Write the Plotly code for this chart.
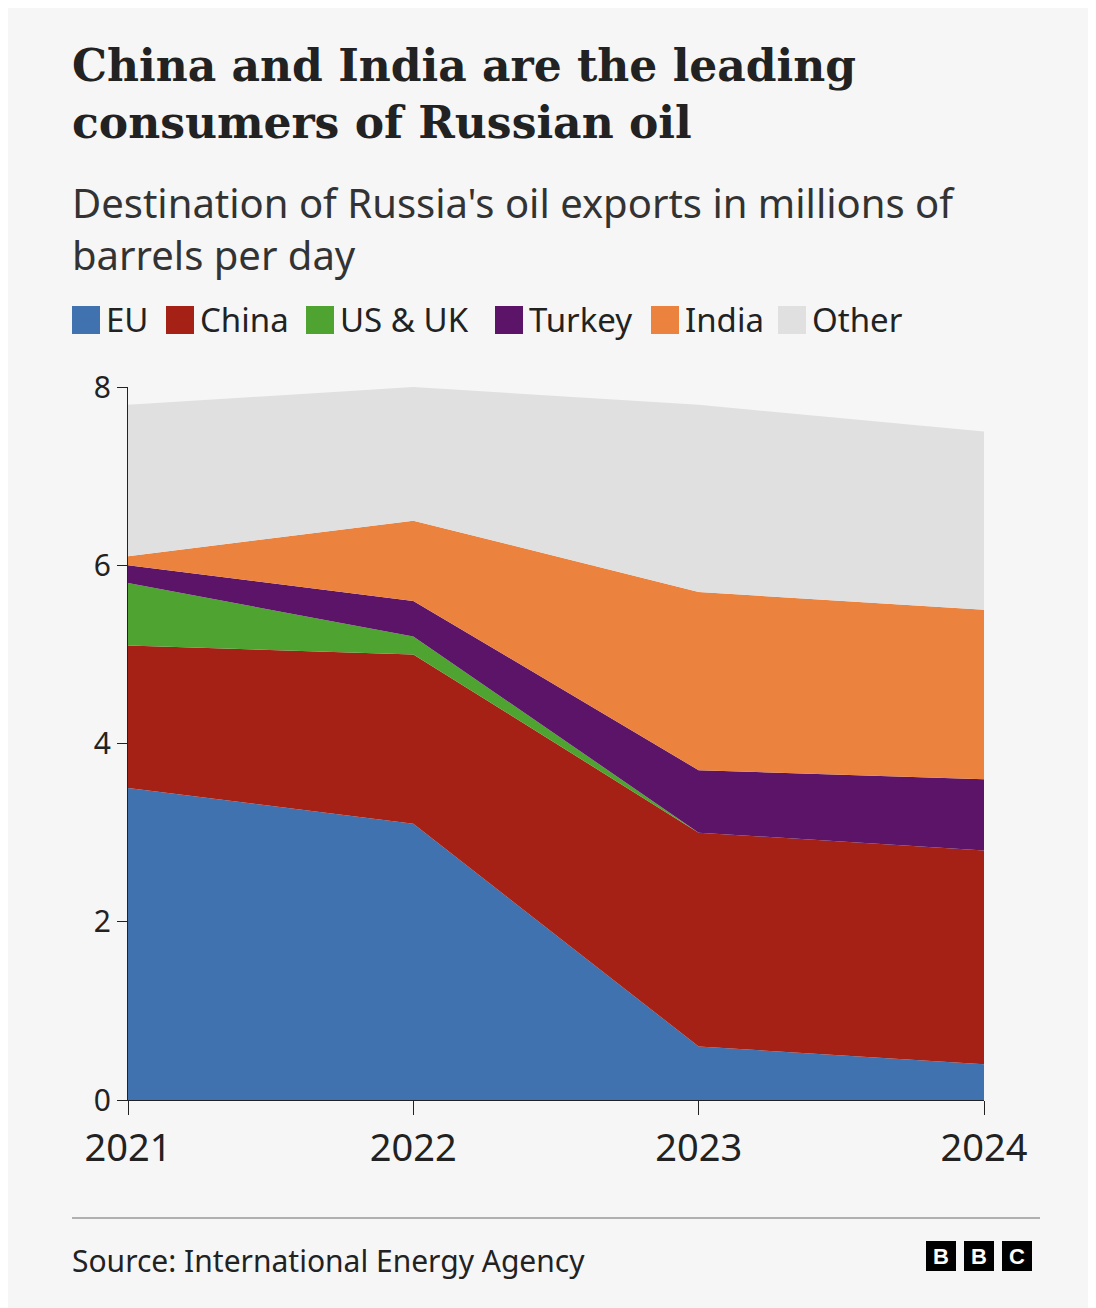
import plotly.graph_objects as go

years = ["2021", "2022", "2023", "2024"]
eu = [3.5, 3.1, 0.6, 0.4]
china = [1.6, 1.9, 2.4, 2.4]
us_uk = [0.7, 0.2, 0.0, 0.0]
turkey = [0.2, 0.4, 0.7, 0.8]
india = [0.1, 0.9, 2.0, 1.9]
other = [1.7, 1.5, 2.1, 2.0]

series = [
    ("EU", eu, "#3f72af"),
    ("China", china, "#a52116"),
    ("US & UK", us_uk, "#4ea331"),
    ("Turkey", turkey, "#5c1469"),
    ("India", india, "#eb823e"),
    ("Other", other, "#e0e0e0"),
]
legend_x = [64, 158, 298, 487, 643, 770]

def px(x):
    return (x - 120) / 856

def py(y):
    return (1092 - y) / 713

fig = go.Figure()
for name, vals, col in series:
    fig.add_trace(go.Scatter(
        x=list(range(len(years))), y=vals, name=name, stackgroup="one",
        mode="lines", line=dict(width=0, color=col), fillcolor=col,
    ))

font = "Noto Sans"
fig.update_layout(
    width=1096, height=1308, paper_bgcolor="#f6f6f6", plot_bgcolor="#f6f6f6",
    margin=dict(l=120, r=120, t=379, b=216, autoexpand=False),
    showlegend=False,
    xaxis=dict(range=[0, 3], tickmode="array", tickvals=[0, 1, 2, 3], ticktext=years,
               showgrid=False, zeroline=False, showline=True, linecolor="#222",
               ticks="outside", ticklen=14, tickcolor="#222",
               tickfont=dict(family=font, size=38, color="#222")),
    yaxis=dict(range=[0, 8], tickvals=[0, 2, 4, 6, 8], showgrid=True,
               gridcolor="#e3e3e3", zeroline=False, showline=True, linecolor="#222",
               ticks="outside", ticklen=10, tickcolor="#222",
               tickfont=dict(family=font, size=30, color="#222")),
)

fig.add_annotation(text="<b>China and India are the leading<br>consumers of Russian oil</b>",
                   xref="paper", yref="paper", x=px(62), y=py(30), xanchor="left", yanchor="top",
                   align="left", showarrow=False,
                   font=dict(family="DejaVu Serif", size=44, color="#222"))
fig.add_annotation(text="Destination of Russia's oil exports in millions of<br>barrels per day",
                   xref="paper", yref="paper", x=px(62), y=py(165), xanchor="left", yanchor="top",
                   align="left", showarrow=False,
                   font=dict(family=font, size=40, color="#333"))

for (name, vals, col), lx in zip(series, legend_x):
    fig.add_shape(type="rect", xref="paper", yref="paper",
                  x0=px(lx), x1=px(lx + 28), y0=py(326), y1=py(298),
                  fillcolor=col, line=dict(width=0))
    fig.add_annotation(text=name, xref="paper", yref="paper", x=px(lx + 32), y=py(312),
                       xanchor="left", yanchor="middle", showarrow=False,
                       font=dict(family=font, size=33, color="#222"))

fig.add_annotation(text="Source: International Energy Agency", xref="paper", yref="paper",
                   x=px(62), y=py(1252), xanchor="left", yanchor="middle",
                   showarrow=False, font=dict(family=font, size=30, color="#222"))
fig.add_shape(type="line", xref="paper", yref="paper", x0=px(64), x1=px(1032),
              y0=py(1210), y1=py(1210), line=dict(color="#999", width=1.5))
for i, ch in enumerate("BBC"):
    x0 = 918 + i * 38
    fig.add_shape(type="rect", xref="paper", yref="paper",
                  x0=px(x0), x1=px(x0 + 30), y0=py(1263), y1=py(1233),
                  fillcolor="#000", line=dict(width=0))
    fig.add_annotation(text="<b>%s</b>" % ch, xref="paper", yref="paper",
                       x=px(x0 + 15), y=py(1248), xanchor="center", yanchor="middle",
                       showarrow=False,
                       font=dict(family="Liberation Sans", size=22, color="#fff"))

fig.write_html("out.html")
